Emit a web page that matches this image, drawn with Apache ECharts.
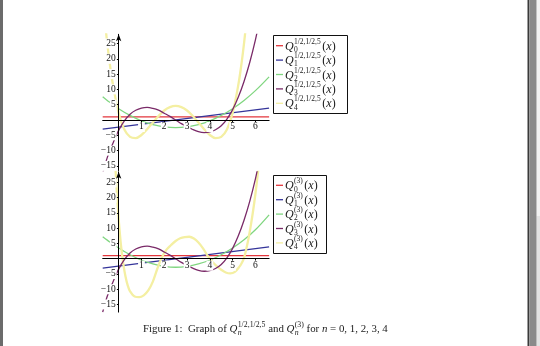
<!DOCTYPE html>
<html><head><meta charset="utf-8">
<script src="https://cdn.jsdelivr.net/npm/echarts@6/dist/echarts.min.js"></script>
<style>html,body{margin:0;padding:0;background:#fff}#c{width:540px;height:346px}</style>
</head><body><div id="c"></div>
<script>
// ---------- data ----------
const xLine = [-0.7, 6.6];
const q0Top = [1, 1];
const q1Top = [-3.0, 3.9];
const q0Bottom = [1, 1];
const q1Bottom = [-3.1, 3.9];

const xQuad = [-0.7, -0.5, 0, 0.5, 1, 1.5, 2, 2.5, 3, 3.5, 4, 4.5, 5, 5.5, 6, 6.6];
const q2Top = [7.6, 6.4, 3.7, 1.5, -0.3, -1.5, -2.25, -2.5, -2.25, -1.5, -0.3, 1.5, 3.7, 6.4, 9.6, 14.1];
const q2Bottom = [7.2, 6.1, 3.5, 1.3, -0.5, -1.7, -2.5, -2.8, -2.5, -1.7, -0.5, 1.3, 3.5, 6.2, 9.5, 14.4];

const xCubic = [-0.7, -0.5, -0.25, 0, 0.25, 0.5, 0.75, 1, 1.25, 1.5, 1.75, 2, 2.25, 2.5, 2.75, 3, 3.25, 3.5, 3.75, 4, 4.25, 4.5, 4.75, 5, 5.25, 5.5, 5.75, 6, 6.15];
const q3Top = [-17.5, -12.3, -7.6, -3.4, -0.3, 1.9, 3.2, 3.9, 4.1, 3.8, 3.2, 2.2, 1.2, 0, -1.2, -2.2, -3.1, -3.8, -4.1, -3.9, -3.2, -1.9, 0.3, 3.4, 7.5, 12.6, 18.8, 26.2, 31.5];
const q3Bottom = [-17.5, -12.3, -7.6, -3.4, -0.3, 1.9, 3.2, 3.9, 4.1, 3.8, 3.2, 2.2, 1.2, 0, -1.2, -2.2, -3.1, -3.8, -4.1, -3.9, -3.2, -1.9, 0.3, 3.4, 7.5, 12.6, 18.8, 26.2, 31.5];

const xQuartTop = [-0.6, -0.5, -0.4, -0.25, 0, 0.25, 0.5, 0.75, 1, 1.25, 1.5, 1.75, 2, 2.25, 2.5, 2.75, 3, 3.25, 3.5, 3.75, 4, 4.25, 4.5, 4.75, 5, 5.25, 5.4, 5.5, 5.6];
const q4Top = [32, 25, 19, 11.5, 2.3, -3.1, -5.5, -5.9, -4.9, -3.0, -0.8, 1.3, 3.1, 4.2, 4.6, 4.2, 3.1, 1.3, -0.8, -3.0, -4.9, -5.9, -5.5, -3.1, 2.3, 11.5, 19, 25, 32];

const xQuartBottom = [-0.15, -0.1, -0.05, 0, 0.05, 0.1, 0.2, 0.3, 0.4, 0.5, 0.7, 0.9, 1.1, 1.3, 1.5, 1.7, 1.9, 2.1, 2.3, 2.5, 2.7, 2.9, 3.1, 3.3, 3.5, 3.7, 3.9, 4.1, 4.3, 4.5, 4.7, 4.9, 5.1, 5.3, 5.4, 5.5, 5.6, 5.7, 5.8, 5.9, 6.0, 6.1, 6.15];
const q4Bottom = [31, 24.5, 18.5, 13, 8.5, 4.5, -1.5, -5.8, -8.8, -10.7, -12.4, -12.6, -12, -10.4, -7.5, -3.2, 0.5, 3, 4.5, 5.8, 6.7, 7.1, 7.2, 6.6, 5.3, 3.4, 1, -0.9, -2.4, -3.6, -4.5, -4.8, -4.3, -2.6, -1.4, 0.3, 3.2, 6.8, 11, 15.8, 21.3, 27.5, 31];

const xRange = [-0.7, 6.6];
const yRangeTop = [-16.5, 28];
const yRangeBottom = [-17.5, 28.5];

const topSup = '1/2,1/2,5';
const bottomSup = '(3)';
const captionParts = ['Figure 1:  Graph of ', 'Q', topSup, 'n', ' and ', 'Q', bottomSup, 'n', ' for ', 'n', ' = 0, 1, 2, 3, 4'];

// ---------- layout & styles ----------
const colors = ['#e3363c', '#34349a', '#80d680', '#7a2a68', '#f4efa2'];
const widths = [1.3, 1.3, 1.3, 1.3, 2.3];
const SERIF = '"Liberation Serif", "DejaVu Serif", serif';
const grids = [
  { left: 102.7, top: 34.3, width: 166.4, height: 136.2 },
  { left: 102.7, top: 171.8, width: 166.4, height: 140.3 }
];
const yRanges = [yRangeTop, yRangeBottom];
function zeroOffsetY(gi) { const r = yRanges[gi]; return grids[gi].height * (0 - r[0]) / (r[1] - r[0]); }
function zeroOffsetX(gi) { return grids[gi].width * (0 - xRange[0]) / (xRange[1] - xRange[0]); }

function pts(xs, ys) { return xs.map((x, i) => [x, ys[i]]); }
function line(name, xs, ys, k, gi) {
  return {
    name, type: 'line', xAxisIndex: gi, yAxisIndex: gi, data: pts(xs, ys),
    showSymbol: false, symbol: 'none', smooth: xs.length > 2 ? 0.35 : false,
    lineStyle: { color: colors[k], width: widths[k] }, itemStyle: { color: colors[k] },
    clip: true, silent: true, z: 2
  };
}
function fmt(v) { if (v === 0) return ''; return v < 0 ? '\u2212' + (-v) : String(v); }
const labelStyle = { fontSize: 9.5, fontFamily: SERIF, color: '#111', showMinLabel: false, showMaxLabel: false,
  formatter: fmt, backgroundColor: '#fff', padding: [0, 1] };
function xAx(gi) {
  return {
    type: 'value', gridIndex: gi, min: xRange[0], max: xRange[1], splitNumber: 7, z: 5,
    position: 'bottom', offset: -zeroOffsetY(gi),
    axisLine: { onZero: false, lineStyle: { color: '#000', width: 1 } },
    axisTick: { show: true, length: 2, lineStyle: { color: '#000' } },
    axisLabel: Object.assign({ margin: 2 }, labelStyle),
    splitLine: { show: false }
  };
}
function yAx(gi) {
  return {
    type: 'value', gridIndex: gi, min: yRanges[gi][0], max: yRanges[gi][1], splitNumber: 9, z: 5,
    position: 'left', offset: -zeroOffsetX(gi),
    axisLine: { onZero: false, symbol: ['none', 'arrow'], symbolSize: [4, 7], lineStyle: { color: '#000', width: 1 } },
    axisTick: { show: true, length: 2, lineStyle: { color: '#000' } },
    axisLabel: Object.assign({ margin: 2 }, labelStyle),
    splitLine: { show: false }
  };
}

// ---------- text layout helpers ----------
const mc = document.createElement('canvas').getContext('2d');
function tw(t, font) { mc.font = font; return mc.measureText(t).width; }
function txt(t, x, y, font, fill) {
  return { type: 'text', x: x, y: y, silent: true, z: 10,
    style: { text: t, font: font, fill: fill || '#1a1a1a', textAlign: 'left', textVerticalAlign: 'middle', align: 'left', verticalAlign: 'middle' } };
}
function legend(bx, by, bw, bh, sup, y0) {
  const els = [{ type: 'rect', z: 9, silent: true, shape: { x: bx + 0.5, y: by + 0.5, width: bw, height: bh },
    style: { fill: '#fff', stroke: '#111', lineWidth: 1 } }];
  const big = '12px ' + SERIF, bigI = 'italic 12px ' + SERIF, sm = '7.5px ' + SERIF;
  for (let i = 0; i < 5; i++) {
    const y = y0 + i * 14.4;
    els.push({ type: 'line', z: 10, silent: true, shape: { x1: bx + 3, y1: y, x2: bx + 10, y2: y }, style: { stroke: colors[i], lineWidth: 1.3 } });
    let x = bx + 12;
    els.push(txt('Q', x, y + 1, bigI));
    x += tw('Q', bigI) + 0.3;
    els.push(txt(sup, x, y - 3.8, sm));
    els.push(txt(String(i), x, y + 4.4, sm));
    x += Math.max(tw(sup, sm), tw(String(i), sm)) + 1.5;
    els.push(txt('(', x, y + 1, big)); x += tw('(', big);
    els.push(txt('x', x, y + 1, bigI)); x += tw('x', bigI) + 0.3;
    els.push(txt(')', x, y + 1, big));
  }
  return els;
}
function caption(x0, y, targetW) {
  function build(fs) {
    const n = fs + 'px ' + SERIF, it = 'italic ' + fs + 'px ' + SERIF, s = (fs * 0.72) + 'px ' + SERIF, si = 'italic ' + (fs * 0.72) + 'px ' + SERIF;
    const els = []; let x = x0;
    const p = captionParts;
    els.push(txt(p[0], x, y, n)); x += tw(p[0], n);
    els.push(txt(p[1], x, y, it)); x += tw(p[1], it) + 0.3;
    els.push(txt(p[2], x, y - 4, s)); els.push(txt(p[3], x, y + 3.5, si)); x += Math.max(tw(p[2], s), tw(p[3], si));
    els.push(txt(p[4], x, y, n)); x += tw(p[4], n);
    els.push(txt(p[5], x, y, it)); x += tw(p[5], it) + 0.3;
    els.push(txt(p[6], x, y - 4, s)); els.push(txt(p[7], x, y + 3.5, si)); x += Math.max(tw(p[6], s), tw(p[7], si));
    els.push(txt(p[8], x, y, n)); x += tw(p[8], n);
    els.push(txt(p[9], x, y, it)); x += tw(p[9], it);
    els.push(txt(p[10], x, y, n)); x += tw(p[10], n);
    return { els, w: x - x0 };
  }
  let r = build(10);
  const fs = Math.max(8.5, Math.min(11.5, 10 * targetW / r.w));
  return build(fs).els;
}

const pageDeco = [
  { type: 'rect', silent: true, z: 1, shape: { x: 0, y: 0, width: 3, height: 346 }, style: { fill: '#6b6b6b' } },
  { type: 'rect', silent: true, z: 1, shape: { x: 527.5, y: 0, width: 1.8, height: 346 }, style: { fill: '#3a3a3a' } },
  { type: 'rect', silent: true, z: 1, shape: { x: 529.3, y: 0, width: 7.4, height: 346 }, style: { fill: '#8a8a8a' } },
  { type: 'rect', silent: true, z: 1, shape: { x: 536.7, y: 0, width: 3.3, height: 216 }, style: { fill: '#f2f2f2' } },
  { type: 'rect', silent: true, z: 1, shape: { x: 536.7, y: 216, width: 3.3, height: 130 }, style: { fill: '#e2e2e2' } }
];

const chart = echarts.init(document.getElementById('c'), null, { renderer: 'canvas' });
chart.setOption({
  animation: false,
  backgroundColor: '#fff',
  grid: grids.map(g => Object.assign({ containLabel: false }, g)),
  xAxis: [xAx(0), xAx(1)],
  yAxis: [yAx(0), yAx(1)],
  legend: { show: false },
  tooltip: { show: false },
  series: [
    line('Q0^{1/2,1/2,5}(x)', xLine, q0Top, 0, 0),
    line('Q1^{1/2,1/2,5}(x)', xLine, q1Top, 1, 0),
    line('Q2^{1/2,1/2,5}(x)', xQuad, q2Top, 2, 0),
    line('Q4^{1/2,1/2,5}(x)', xQuartTop, q4Top, 4, 0),
    line('Q3^{1/2,1/2,5}(x)', xCubic, q3Top, 3, 0),
    line('Q0^{(3)}(x)', xLine, q0Bottom, 0, 1),
    line('Q1^{(3)}(x)', xLine, q1Bottom, 1, 1),
    line('Q2^{(3)}(x)', xQuad, q2Bottom, 2, 1),
    line('Q4^{(3)}(x)', xQuartBottom, q4Bottom, 4, 1),
    line('Q3^{(3)}(x)', xCubic, q3Bottom, 3, 1)
  ],
  graphic: { elements: [].concat(
    pageDeco,
    legend(273, 35, 74, 78, topSup, 45.7),
    legend(273, 175, 53, 78, bottomSup, 185.3),
    caption(143, 329, 245)
  ) }
});
</script></body></html>
